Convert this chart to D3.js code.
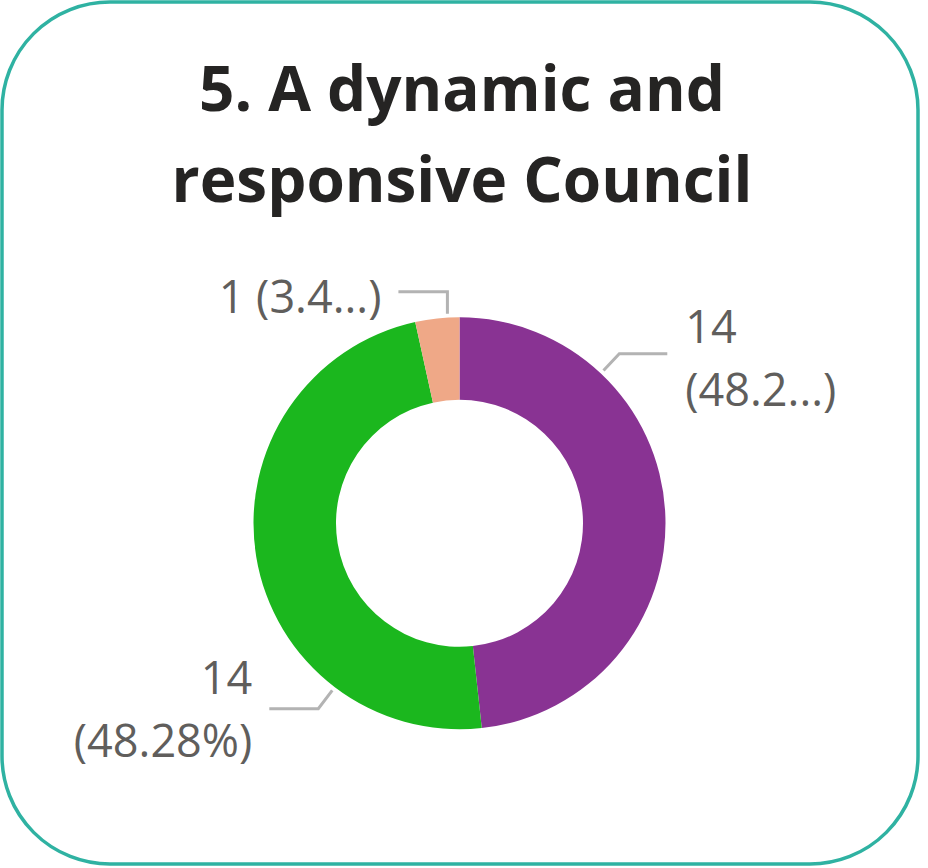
<!DOCTYPE html>
<html>
<head>
<meta charset="utf-8">
<script src="https://cdn.jsdelivr.net/npm/d3@7"></script>
<style>
  html, body { margin: 0; padding: 0; background: #ffffff; }
  svg { display: block; }
</style>
</head>
<body>
<svg id="chart" width="928" height="868"></svg>
<script>
// Survey responses for the "dynamic and responsive Council" question
const categories = ["Agree", "Neutral", "Disagree"];
const values = [14, 14, 1];
const colors = ["#893393", "#1bb71e", "#efa887"];
// Data labels as displayed (long ones truncated)
const labelLines = [["14", "(48.2...)"], ["14", "(48.28%)"], ["1 (3.4...)"]];
// Where each leader line leaves the ring (degrees clockwise from 12 o'clock)
const leaderAngles = [43.3, 217.3, 356.7];
const titleLines = ["5. A dynamic and", "responsive Council"];

const svg = d3.select("#chart");

// Card frame
svg.append("rect")
  .attr("x", 2).attr("y", 2)
  .attr("width", 916).attr("height", 862)
  .attr("rx", 108).attr("ry", 108)
  .attr("fill", "#ffffff")
  .attr("stroke", "#2fb2a2")
  .attr("stroke-width", 3.5);

// Title
const title = svg.append("text")
  .attr("text-anchor", "middle")
  .attr("font-family", "'Open Sans', 'Noto Sans', sans-serif")
  .attr("font-weight", 700)
  .attr("font-size", 62)
  .attr("fill", "#252423");
titleLines.forEach((t, i) => {
  title.append("tspan").attr("x", 462).attr("y", 111 + i * 91).text(t);
});

// Donut
const cx = 459.5, cy = 523.3;
const outerR = 206, innerR = 123.5;
const g = svg.append("g").attr("transform", `translate(${cx},${cy})`);

const pie = d3.pie().sort(null).value(d => d);
const arcs = pie(values);
const arc = d3.arc().innerRadius(innerR).outerRadius(outerR);

g.selectAll("path.slice")
  .data(arcs)
  .join("path")
  .attr("class", "slice")
  .attr("d", arc)
  .attr("fill", (d, i) => colors[i]);

// Leader lines and labels
const rad = a => a * Math.PI / 180;
const pt = (a, r) => [Math.sin(rad(a)) * r, -Math.cos(rad(a)) * r];
const labelFont = "'Open Sans', 'Noto Sans', sans-serif";

arcs.forEach((d, i) => {
  const a = leaderAngles[i];
  const right = a < 180;
  const p0 = pt(a, outerR + 4);
  // the small slice at the top runs its leader straight up
  const p1 = i === 2 ? [p0[0], -231.5] : pt(a, outerR + 27);
  const p2 = [p1[0] + (right ? 48 : -49), p1[1]];
  g.append("path")
    .attr("d", d3.line()([p0, p1, p2]))
    .attr("fill", "none")
    .attr("stroke", "#b3b3b3")
    .attr("stroke-width", 3);

  const lines = labelLines[i];
  const tx = p2[0] + (right ? 18 : -17);
  const firstY = lines.length === 1 ? p2[1] + 21 : p2[1] + (right ? -11 : -15);
  const t = g.append("text")
    .attr("text-anchor", right ? "start" : "end")
    .attr("font-family", labelFont)
    .attr("font-size", 45)
    .attr("fill", "#605e5c");
  lines.forEach((s, j) => {
    t.append("tspan").attr("x", tx).attr("y", firstY + j * 63).text(s);
  });
});
</script>
</body>
</html>
